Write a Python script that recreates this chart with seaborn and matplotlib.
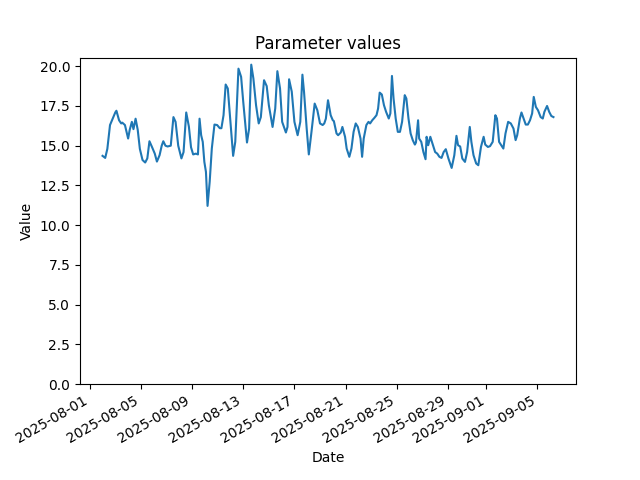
import matplotlib
matplotlib.use("Agg")
import matplotlib.pyplot as plt
import seaborn as sns
import pandas as pd
import numpy as np

# hours since 2025-08-01 00:00
hours = [24, 29, 33, 38, 43, 48, 50, 55, 59, 61, 66, 72, 75, 79, 82, 86, 90, 94, 99, 104,
         108, 112, 117, 122, 126, 131, 135, 138, 142, 146, 152, 157, 161, 166, 172, 176,
         181, 186, 190, 194, 199, 203, 206, 209, 212, 215, 218, 221, 225, 229, 234, 239,
         244, 247, 251, 255, 259, 264, 269, 273, 279, 284, 288, 295, 299, 303, 307, 312,
         317, 321, 327, 332,
         336, 343, 348, 352, 357, 361, 368, 371, 374, 379, 384, 390, 395, 399, 402, 407,
         411, 416, 422, 427, 432, 437, 440, 443, 447, 452, 456, 458, 463, 466, 471, 474,
         479, 482, 487,
         491, 495, 499, 503, 508, 511, 514, 519, 523, 526, 530, 534, 538, 541, 544, 548,
         552, 556, 561, 564, 567, 570, 574, 578, 582, 586, 591, 594, 598, 602, 606, 610,
         612, 616, 618, 622, 626, 630, 632, 635, 639, 643, 648,
         652, 656, 660, 664, 668, 673, 679, 684, 688, 691, 695, 699, 704, 708, 713, 716,
         720, 725, 729, 734, 739, 742, 747, 751, 756, 761, 764, 768, 772, 776, 780, 785,
         790, 795, 799, 802,
         807, 810, 813, 818, 822, 826, 830, 833, 837, 841, 846, 850, 853, 858, 862, 866, 870]

values = [14.36, 14.23, 14.8, 16.3, 16.7, 17.1, 17.2, 16.6, 16.4, 16.45, 16.3, 15.45, 16.0,
          16.5, 16.04, 16.7, 16.0, 14.8, 14.1, 13.94,
          14.2, 15.28, 14.9, 14.5, 14.0, 14.4, 15.0, 15.28, 15.0, 14.95, 15.0, 16.8, 16.5,
          15.0, 14.2, 14.6,
          17.09, 16.2, 14.9, 14.45, 14.5, 14.45, 16.7, 15.66, 15.24, 13.98, 13.35, 11.21,
          12.72, 14.82, 16.33, 16.3,
          16.1, 16.1, 16.92, 18.85, 18.6, 16.5, 14.36, 15.24, 19.85, 19.33, 17.75, 15.2,
          16.08, 20.1, 19.23, 17.55,
          16.4, 16.8, 19.12, 18.75,
          17.55, 16.18, 17.34, 19.69, 18.6, 16.5, 15.83, 16.18, 19.18, 18.4, 16.5, 15.66,
          16.5, 19.47, 18.4, 16.08,
          14.45, 15.87, 17.65, 17.23, 16.4, 16.3, 16.4, 16.7, 17.86, 16.92, 16.6, 16.55,
          15.77, 15.66, 15.83, 16.18,
          15.56, 14.82, 14.3,
          14.82, 15.87, 16.4, 16.18, 15.45, 14.3, 15.45, 16.3, 16.5, 16.4, 16.6, 16.75,
          16.92, 17.34, 18.34, 18.22,
          17.55, 17.13, 16.71, 17.03, 19.39, 17.97, 16.71, 15.87, 15.87, 16.5, 18.18, 17.97,
          16.71, 15.77, 15.35, 15.07,
          15.2, 16.6, 15.45, 15.24, 14.6, 14.15, 15.56, 15.03, 15.56, 15.13, 14.6,
          14.5, 14.3, 14.23, 14.6, 14.78, 14.19, 13.6, 14.4, 15.62, 15.03, 14.95, 14.19,
          13.98, 14.6, 16.18, 15.24,
          14.4, 13.88, 13.77, 14.92, 15.56, 15.07, 14.92, 14.97, 15.24, 16.92, 16.71, 15.24,
          15.03, 14.82, 15.77, 16.5,
          16.4, 16.08, 15.35, 15.66,
          16.71, 17.09, 16.8, 16.33, 16.33, 16.6, 17.03, 18.07, 17.44, 17.23, 16.8, 16.71,
          17.13, 17.5, 17.13, 16.87, 16.8]

dates = pd.Timestamp("2025-08-01") + pd.to_timedelta(hours, unit="h")
df = pd.DataFrame({"Date": dates, "Value": values})

fig, ax = plt.subplots(figsize=(6.4, 4.8), dpi=100)
sns.lineplot(data=df, x="Date", y="Value", ax=ax)
ax.set_ylim(bottom=0)
ax.set_title("Parameter values")
ax.set_xlabel("Date")
ax.set_ylabel("Value")
fig.autofmt_xdate()
fig.savefig("out.png", dpi=100)
